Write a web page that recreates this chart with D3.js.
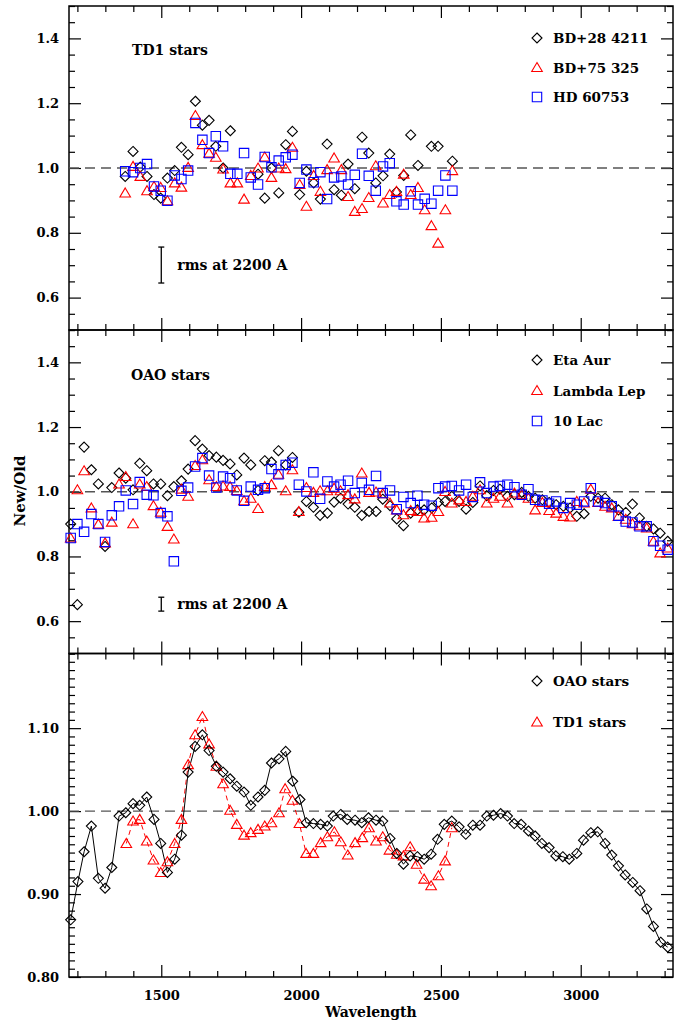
<!DOCTYPE html>
<html><head><meta charset="utf-8">
<script src="https://cdn.jsdelivr.net/npm/d3@7"></script>
<style>
body{margin:0;background:#fff}
text{font-family:"DejaVu Serif",serif;font-weight:bold;fill:#000}
</style>
</head><body>
<svg id="chart" width="691" height="1021"></svg>
<script>
// ---------------- DATA ----------------
// Panel 1: TD1 stars
const td1Wave = [1371,1399,1425,1449,1474,1498,1522,1548,1572,1596,1622,1647,1671,1695,1721,1747,1772,1796,1820,1846,1870,1894,1920,1945,1969,1995,2019,2045,2069,2093,2118,2144,2168,2192,2218,2242,2267,2293,2317,2341,2367,2392,2418,2442,2466,2490,2516,2541];
const bd28_4211 = [0.974,1.051,1.003,0.974,0.918,0.907,0.969,0.992,1.064,1.041,1.206,1.132,1.147,1.067,1.000,1.115,null,null,null,0.981,0.907,1.000,0.923,1.072,1.113,0.918,0.990,0.954,0.904,1.074,0.933,0.916,1.012,0.936,1.095,1.046,0.954,0.976,1.043,0.926,0.977,1.102,1.008,null,1.067,1.067,null,1.021];
const bd75_325 = [0.923,1.005,0.974,0.930,0.943,0.940,0.899,0.954,0.941,1.002,1.162,1.072,1.046,1.033,0.997,0.954,0.954,0.904,0.977,1.000,1.034,0.971,1.000,0.998,1.064,0.949,0.882,0.977,0.928,0.995,1.031,0.995,0.912,0.866,0.875,0.909,1.007,0.892,0.918,0.928,0.981,0.918,0.940,0.871,0.822,0.768,0.871,0.992];
const hd60753 = [0.990,0.987,1.000,1.012,0.943,0.930,0.899,0.977,0.966,0.992,1.139,1.087,1.046,1.098,1.067,0.982,0.982,1.046,0.971,0.949,1.034,1.002,1.023,1.033,1.041,0.954,0.995,0.956,0.987,0.904,0.971,0.974,0.949,0.979,1.044,0.976,0.930,1.005,1.015,0.897,0.887,0.928,0.887,0.905,0.890,0.930,0.977,0.930];

// Panel 2: OAO stars
const oaoWave = [1176,1200,1224,1250,1275,1299,1323,1349,1373,1399,1423,1448,1472,1498,1522,1545,1572,1596,1621,1647,1671,1697,1721,1746,1770,1796,1820,1846,1870,1894,1919,1945,1969,1992,2019,2044,2068,2094,2118,2141,2168,2192,2217,2243,
 2268,2292,2318,2342,2366,2392,2416,2440,2467,2491,2515,2539,2565,2590,2614,2640,2664,2688,2711,2738,2763,2789,2813,2837,2863,2887,2912,2938,2962,2986,3012,3036,3062,3087,3111,3135,3161,3185,3210,3236,3260,3284,3311];
const etaAur = [0.900,0.651,1.138,1.068,1.024,0.831,1.013,1.058,1.042,1.006,1.088,1.065,1.024,1.024,0.988,1.016,1.034,1.070,1.158,1.132,1.112,1.107,1.097,1.086,1.052,1.104,1.083,1.004,1.096,1.092,1.127,1.083,1.106,0.937,0.970,0.952,0.927,0.934,0.968,0.980,0.962,0.952,0.927,0.939,
 0.939,0.977,0.957,0.916,0.895,0.934,0.944,0.944,0.950,0.967,0.970,0.986,0.970,0.946,0.967,1.018,0.988,1.004,1.008,0.986,0.991,0.998,0.986,0.980,0.975,0.967,0.960,0.955,0.950,0.924,0.932,0.986,0.980,0.980,0.960,0.944,0.936,0.962,0.919,0.893,0.885,0.872,0.847];
const lambdaLep = [0.857,1.006,1.065,0.950,0.900,0.842,0.906,1.024,1.047,0.901,1.024,1.016,0.957,0.937,0.893,0.854,1.008,0.986,1.081,1.099,1.037,1.016,1.018,1.016,1.004,0.972,0.980,0.948,1.016,1.022,1.054,1.003,1.068,0.939,1.013,0.998,1.003,1.003,1.011,1.003,0.991,0.978,1.058,0.998,
 0.999,0.994,0.965,0.944,0.929,0.942,0.939,0.919,0.921,0.939,1.001,0.965,0.975,0.970,0.986,1.006,0.965,0.980,0.986,0.965,0.996,0.991,0.980,0.944,0.967,0.942,0.934,0.924,0.922,0.970,0.965,1.008,0.967,0.955,0.950,0.924,0.915,0.901,0.895,0.888,0.847,0.811,0.826];
const lac10 = [0.857,0.900,0.876,0.931,0.900,0.845,0.927,0.955,1.004,0.962,1.030,0.991,0.989,0.934,0.924,0.785,1.003,1.013,1.078,1.104,1.050,1.013,1.047,1.042,1.004,0.972,1.016,1.006,1.011,1.070,1.054,1.083,1.090,1.022,1.001,1.060,0.978,1.032,1.016,1.022,1.034,0.996,1.027,1.006,
 1.049,0.996,1.004,0.946,0.984,0.965,0.988,0.960,0.957,1.011,1.016,1.018,1.004,1.022,0.984,1.029,0.996,1.016,1.018,1.022,1.014,0.991,1.008,0.975,0.973,0.963,0.970,0.950,0.965,0.960,0.970,1.011,0.970,0.965,0.955,0.926,0.908,0.905,0.893,0.893,0.847,0.833,0.821];

// Panel 3: averages
const avgOaoWave = [1176,1202,1224,1250,1275,1299,1323,1349,1373,1399,1423,1448,1474,1498,1522,1548,1572,1596,1621,1647,1671,1697,1721,1746,1770,1796,1820,1846,1870,1894,1921,1945,1970,1996,2018,2044,2070,2094,2115,2142,2165,2193,2217,2241,2268,2292,2318,2342,2366,2390,2416,2440,2465,2488,2512,2539,2565,2589,2614,2640,2664,2688,2714,2738,2762,2787,2813,2837,2861,2887,2911,2936,2959,2986,3010,3036,3061,3087,3111,3135,3159,3186,3212,3236,3260,3286,3311];
const avgOao = [0.869,0.915,0.951,0.982,0.919,0.907,0.932,0.994,0.998,1.009,1.007,1.017,0.990,0.961,0.926,0.942,0.971,1.047,1.078,1.092,1.073,1.054,1.047,1.039,1.030,1.023,1.007,1.017,1.025,1.058,1.063,1.072,1.036,1.014,0.986,0.985,0.984,0.982,0.994,0.996,0.990,0.989,0.986,0.992,0.989,0.988,0.967,0.949,0.936,0.946,0.945,0.942,0.948,0.966,0.984,0.988,0.981,0.972,0.983,0.983,0.994,0.995,0.997,0.994,0.985,0.984,0.976,0.970,0.961,0.956,0.946,0.945,0.942,0.949,0.965,0.974,0.975,0.961,0.947,0.934,0.923,0.914,0.904,0.882,0.861,0.842,0.836];
const avgTd1Wave = [1375,1399,1423,1448,1472,1498,1522,1548,1572,1596,1621,1647,1671,1697,1721,1746,1770,1796,1820,1846,1870,1894,1921,1943,1969,1994,2018,2044,2070,2094,2119,2142,2167,2193,2219,2243,2268,2292,2316,2342,2366,2390,2413,2440,2465,2491,2515,2539];
const avgTd1 = [0.961,0.988,0.990,0.964,0.941,0.926,0.939,0.961,0.990,1.056,1.092,1.114,1.081,1.054,1.033,1.001,0.984,0.971,0.974,0.978,0.982,0.986,0.998,1.027,1.013,0.985,0.949,0.949,0.962,0.969,0.975,0.963,0.947,0.962,0.968,0.980,0.964,0.969,0.953,0.948,0.946,0.957,0.936,0.918,0.910,0.922,0.940,0.980];

// Labels
const panel1Names = ["BD+28 4211","BD+75 325","HD 60753"];
const panel2Names = ["Eta Aur","Lambda Lep","10 Lac"];
const panel3Names = ["OAO stars","TD1 stars"];
const xTickLabels = [1500,2000,2500,3000];
const yTicks12 = [0.6,0.8,1.0,1.2,1.4];
const yTicks3 = [0.80,0.90,1.00,1.10];
const rmsBar1 = [0.645,0.756];   // rms at 2200 A, TD1
const rmsBar2 = [0.631,0.674];   // rms at 2200 A, OAO
const rmsWave = 1500;

// ---------------- DRAWING ----------------
const svg = d3.select("#chart");
const L = 69, R = 673;
const x = d3.scaleLinear().domain([1170, 3330]).range([L, R]);
const panels = [
  {top:6, bottom:330, dom:[0.5,1.5], major:yTicks12, minorStep:0.05, fmt:d3.format(".1f")},
  {top:330, bottom:653.5, dom:[0.5,1.5], major:yTicks12, minorStep:0.05, fmt:d3.format(".1f")},
  {top:653.5, bottom:977, dom:[0.8,1.19], major:yTicks3, minorStep:0.01, fmt:d3.format(".2f")}
];
panels.forEach(p => { p.y = d3.scaleLinear().domain(p.dom).range([p.bottom, p.top]); });

const xMajor = d3.range(1200, 3301, 100).filter(v => v % 500 === 0);
const xMinor = d3.range(1200, 3301, 100).filter(v => v % 500 !== 0);

const SW = 1.2;
function styleAxis(g){
  g.select(".domain").remove();
  g.selectAll("line").attr("stroke","#000").attr("stroke-width",SW);
  g.selectAll("text").attr("font-family","DejaVu Serif").attr("font-weight","bold").attr("font-size",13).attr("fill","#000");
}

panels.forEach((p, i) => {
  const minorY = d3.range(p.dom[0], p.dom[1] + 1e-9, p.minorStep).map(v => +v.toFixed(3))
      .filter(v => !p.major.some(m => Math.abs(m - v) < 1e-6));
  // left
  svg.append("g").attr("transform",`translate(${L},0)`)
    .call(d3.axisLeft(p.y).tickValues(p.major).tickSize(-12).tickPadding(10).tickFormat(p.fmt)).call(styleAxis);
  svg.append("g").attr("transform",`translate(${L},0)`)
    .call(d3.axisLeft(p.y).tickValues(minorY).tickSize(-6).tickFormat("")).call(styleAxis);
  // right
  svg.append("g").attr("transform",`translate(${R},0)`)
    .call(d3.axisRight(p.y).tickValues(p.major).tickSize(-12).tickFormat("")).call(styleAxis);
  svg.append("g").attr("transform",`translate(${R},0)`)
    .call(d3.axisRight(p.y).tickValues(minorY).tickSize(-6).tickFormat("")).call(styleAxis);
  // top
  svg.append("g").attr("transform",`translate(0,${p.top})`)
    .call(d3.axisTop(x).tickValues(xMajor).tickSize(-12).tickFormat("")).call(styleAxis);
  svg.append("g").attr("transform",`translate(0,${p.top})`)
    .call(d3.axisTop(x).tickValues(xMinor).tickSize(-6).tickFormat("")).call(styleAxis);
  // bottom
  const bAx = d3.axisBottom(x).tickValues(xMajor).tickSize(-12).tickPadding(14);
  if (i < 2) bAx.tickFormat(""); else bAx.tickFormat(d3.format("d"));
  svg.append("g").attr("transform",`translate(0,${p.bottom})`).call(bAx).call(styleAxis);
  svg.append("g").attr("transform",`translate(0,${p.bottom})`)
    .call(d3.axisBottom(x).tickValues(xMinor).tickSize(-6).tickFormat("")).call(styleAxis);
  // frame
  svg.append("rect").attr("x",L).attr("y",p.top).attr("width",R-L).attr("height",p.bottom-p.top)
    .attr("fill","none").attr("stroke","#000").attr("stroke-width",1.5);
  // dashed unity line
  svg.append("line").attr("x1",L).attr("x2",R).attr("y1",p.y(1)).attr("y2",p.y(1))
    .attr("stroke","#555").attr("stroke-width",1.3).attr("stroke-dasharray","10,6");
});

const shapes = {
  diamond: "M0,-5L5,0L0,5L-5,0Z",
  triangle: "M0,-5L5.3,4L-5.3,4Z",
  square: "M-4.7,-4.7H4.7V4.7H-4.7Z"
};
function drawPoints(p, waves, vals, shape, color){
  const pts = waves.map((w, k) => ({w, v: vals[k]})).filter(d => d.v != null);
  svg.append("g").selectAll("path").data(pts).join("path")
    .attr("d", shapes[shape])
    .attr("transform", d => `translate(${x(d.w)},${p.y(d.v)})`)
    .attr("fill","none").attr("stroke",color).attr("stroke-width",1.1);
}
function legend(p, items, y0, dy){
  items.forEach((it, k) => {
    const yy = y0 + k*dy;
    svg.append("path").attr("d", shapes[it.shape]).attr("transform",`translate(537,${yy})`)
      .attr("fill","none").attr("stroke",it.color).attr("stroke-width",1.1);
    svg.append("text").attr("x",553).attr("y",yy+5).attr("font-size",13.5).text(it.name);
  });
}
function rmsBar(p, range, label){
  const xx = x(rmsWave), y1 = p.y(range[0]), y2 = p.y(range[1]);
  const g = svg.append("g").attr("stroke","#000").attr("stroke-width",1.3);
  g.append("line").attr("x1",xx).attr("x2",xx).attr("y1",y1).attr("y2",y2);
  g.append("line").attr("x1",xx-3).attr("x2",xx+3).attr("y1",y1).attr("y2",y1);
  g.append("line").attr("x1",xx-3).attr("x2",xx+3).attr("y1",y2).attr("y2",y2);
  svg.append("text").attr("x",xx+16).attr("y",(y1+y2)/2+5).attr("font-size",14).text(label);
}

// Panel 1
const P1 = panels[0];
drawPoints(P1, td1Wave, bd28_4211, "diamond", "#000");
drawPoints(P1, td1Wave, bd75_325, "triangle", "#ff0000");
drawPoints(P1, td1Wave, hd60753, "square", "#0000ff");
svg.append("text").attr("x",132).attr("y",55).attr("font-size",14).text("TD1 stars");
legend(P1, [{shape:"diamond",color:"#000",name:panel1Names[0]},{shape:"triangle",color:"#ff0000",name:panel1Names[1]},{shape:"square",color:"#0000ff",name:panel1Names[2]}], 38, 29.5);
rmsBar(P1, rmsBar1, "rms at 2200 A");

// Panel 2
const P2 = panels[1];
drawPoints(P2, oaoWave, etaAur, "diamond", "#000");
drawPoints(P2, oaoWave, lambdaLep, "triangle", "#ff0000");
drawPoints(P2, oaoWave, lac10, "square", "#0000ff");
svg.append("text").attr("x",131).attr("y",380).attr("font-size",14).text("OAO stars");
legend(P2, [{shape:"diamond",color:"#000",name:panel2Names[0]},{shape:"triangle",color:"#ff0000",name:panel2Names[1]},{shape:"square",color:"#0000ff",name:panel2Names[2]}], 360, 30.5);
rmsBar(P2, rmsBar2, "rms at 2200 A");

// Panel 3
const P3 = panels[2];
const lineGen = d3.line().x(d => x(d[0])).y(d => P3.y(d[1]));
svg.append("path").attr("d", lineGen(avgTd1Wave.map((w,k)=>[w,avgTd1[k]])))
  .attr("fill","none").attr("stroke","#ff0000").attr("stroke-width",1).attr("stroke-dasharray","5,4");
svg.append("path").attr("d", lineGen(avgOaoWave.map((w,k)=>[w,avgOao[k]])))
  .attr("fill","none").attr("stroke","#000").attr("stroke-width",1);
drawPoints(P3, avgTd1Wave, avgTd1, "triangle", "#ff0000");
drawPoints(P3, avgOaoWave, avgOao, "diamond", "#000");
legend(P3, [{shape:"diamond",color:"#000",name:panel3Names[0]},{shape:"triangle",color:"#ff0000",name:panel3Names[1]}], 681, 41);

// Axis titles
svg.append("text").attr("transform","translate(25,491) rotate(-90)").attr("text-anchor","middle").attr("font-size",15).text("New/Old");
svg.append("text").attr("x",371).attr("y",1017).attr("text-anchor","middle").attr("font-size",14).text("Wavelength");
</script>
</body></html>
